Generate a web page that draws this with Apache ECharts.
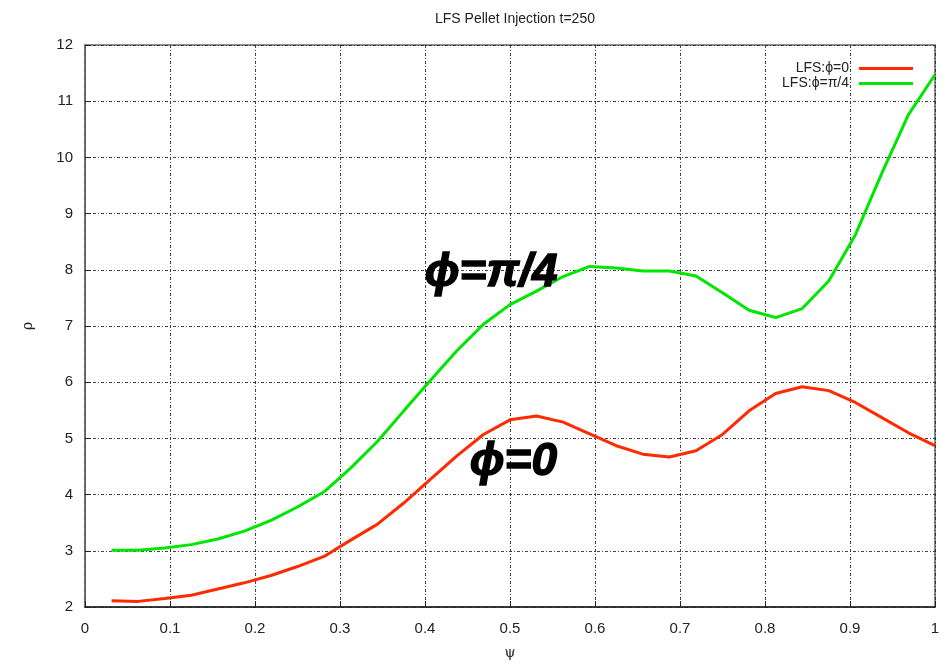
<!DOCTYPE html>
<html>
<head>
<meta charset="utf-8">
<script src="https://cdn.jsdelivr.net/npm/echarts@6/dist/echarts.min.js"></script>
<style>html,body{margin:0;padding:0;background:#fff}#c{width:951px;height:665px}</style>
</head>
<body>
<div id="c"></div>
<script>
var psi = [0.03125,0.0625,0.09375,0.125,0.15625,0.1875,0.21875,0.25,0.28125,0.3125,0.34375,0.375,0.40625,0.4375,0.46875,0.5,0.53125,0.5625,0.59375,0.625,0.65625,0.6875,0.71875,0.75,0.78125,0.8125,0.84375,0.875,0.90625,0.9375,0.96875,1.0];
var rhoPhi0 = [2.11,2.10,2.15,2.21,2.32,2.43,2.56,2.72,2.90,3.19,3.47,3.85,4.27,4.69,5.07,5.33,5.40,5.29,5.08,4.87,4.72,4.67,4.78,5.07,5.49,5.80,5.92,5.85,5.64,5.37,5.10,4.87];
var rhoPhiPi4 = [3.01,3.01,3.05,3.11,3.21,3.35,3.54,3.78,4.05,4.47,4.94,5.49,6.03,6.56,7.03,7.38,7.62,7.88,8.06,8.03,7.98,7.98,7.89,7.59,7.28,7.15,7.31,7.80,8.62,9.72,10.76,11.47];
var seriesNames = ['LFS:\u03d5=0','LFS:\u03d5=\u03c0/4'];
var titleText = 'LFS Pellet Injection t=250';

function pairs(xs, ys){ return xs.map(function(x,i){ return [x, ys[i]]; }); }

var chart = echarts.init(document.getElementById('c'), null, {renderer:'canvas'});
var gridLine = {show:true, lineStyle:{color:'#222', width:1, type:[3,2,1,2], opacity:0.85}};
var font = 'Liberation Sans, Arial, sans-serif';
chart.setOption({
  animation:false,
  backgroundColor:'#fff',
  title:{text:titleText, left:510, textAlign:'center', top:7, textStyle:{fontFamily:font, fontSize:14, fontWeight:'normal', color:'#222'}},
  legend:{
    right:33, top:56, orient:'vertical', align:'right', itemGap:0,
    itemWidth:54, itemHeight:12,
    textStyle:{fontFamily:font, fontSize:14, color:'#222', lineHeight:15, padding:[0,5,0,0]},
    icon:'path://M0,5 L54,5 L54,8 L0,8 Z',
    data:seriesNames
  },
  grid:{left:85, right:16, top:45, bottom:57, show:true, borderColor:'#666', borderWidth:1.5, containLabel:false},
  xAxis:{type:'value', min:0, max:1, interval:0.1,
    name:'\u03c8', nameLocation:'middle', nameGap:39, nameTextStyle:{fontFamily:'DejaVu Serif, serif', fontSize:14, color:'#222'},
    axisLine:{show:true, lineStyle:{color:'#222', width:1.5}},
    axisTick:{show:true, inside:true, length:6, lineStyle:{color:'#222'}},
    axisLabel:{fontFamily:font, fontSize:15, color:'#222', margin:14},
    splitLine:gridLine},
  yAxis:{type:'value', min:2, max:12, interval:1,
    name:'\u03c1', nameLocation:'middle', nameGap:50, nameRotate:90, nameTextStyle:{fontFamily:'DejaVu Serif, serif', fontSize:14, color:'#222'},
    axisLine:{show:true, lineStyle:{color:'#666', width:1.5}},
    axisTick:{show:true, inside:true, length:6, lineStyle:{color:'#222'}},
    axisLabel:{fontFamily:font, fontSize:15, color:'#222', margin:12},
    splitLine:gridLine},
  series:[
    {name:seriesNames[0], type:'line', data:pairs(psi, rhoPhi0), showSymbol:false, smooth:false,
      itemStyle:{color:'#ff2a00'}, lineStyle:{color:'#ff2a00', width:3}},
    {name:seriesNames[1], type:'line', data:pairs(psi, rhoPhiPi4), showSymbol:false, smooth:false,
      itemStyle:{color:'#00e600'}, lineStyle:{color:'#00e600', width:3}}
  ],
  graphic:[
    {type:'text', left:424, top:250, z:100, style:{text:'\u03d5=\u03c0/4', font:'italic bold 46px Liberation Sans, Arial, sans-serif', fill:'#000', stroke:'#000', lineWidth:1.4}},
    {type:'text', left:469, top:439, z:100, style:{text:'\u03d5=0', font:'italic bold 46px Liberation Sans, Arial, sans-serif', fill:'#000', stroke:'#000', lineWidth:1.4}}
  ]
});
</script>
</body>
</html>
